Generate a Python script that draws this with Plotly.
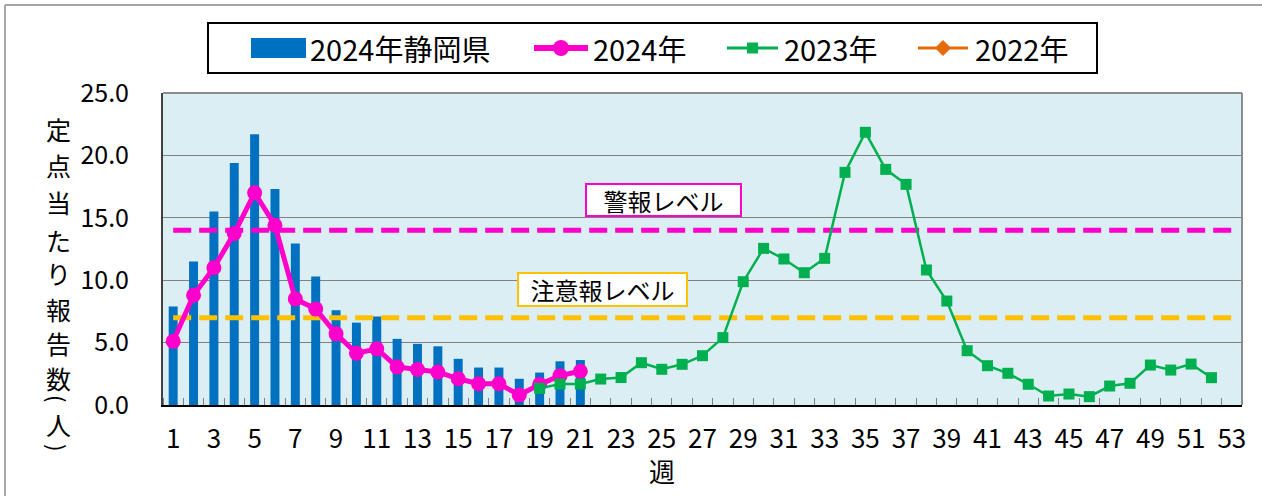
import plotly.graph_objects as go

# ---------------- data ----------------
weeks_2024 = list(range(1, 22))
shizuoka_2024 = [7.9, 11.5, 15.5, 19.4, 21.7, 17.3, 12.95, 10.3, 7.6, 6.6, 7.1,
                 5.3, 4.9, 4.7, 3.7, 3.0, 3.0, 2.1, 2.6, 3.5, 3.6]
line_2024 = [5.1, 8.8, 11.0, 13.75, 17.0, 14.4, 8.5, 7.7, 5.7, 4.15, 4.5,
             3.05, 2.85, 2.65, 2.1, 1.7, 1.7, 0.8, 1.65, 2.35, 2.7]
weeks_2023 = list(range(19, 53))
line_2023 = [1.33, 1.68, 1.68, 2.08, 2.2, 3.39, 2.86, 3.26, 3.95, 5.4, 9.88,
             12.55, 11.7, 10.6, 11.75, 18.64, 21.85, 18.88, 17.68, 10.82, 8.33,
             4.35, 3.15, 2.54, 1.66, 0.72, 0.88, 0.67, 1.52, 1.74, 3.2, 2.8,
             3.28, 2.19]
weeks_2022 = []
line_2022 = []
all_weeks = list(range(1, 54))
tick_weeks = list(range(1, 54, 2))
warning_level = 14.0
advisory_level = 7.0
series_names = ["2024年静岡県", "2024年", "2023年", "2022年"]
level_names = ["警報レベル", "注意報レベル"]
y_title_chars = ["定", "点", "当", "た", "り", "報", "告", "数", "(", "人", ")"]
x_title = "週"

# ---------------- colours ----------------
C_BAR = "#0070C0"
C_PINK = "#FF00CC"
C_GREEN = "#00B050"
C_ORANGE = "#E46C0A"
C_GOLD = "#FFC000"
FONT = "Noto Sans CJK JP"

# plot-area geometry (pixels)
W, H = 1262, 496
L, R, T, B = 163, 1242, 93, 405
PW, PH = R - L, B - T


def px(x):
    return (x - L) / PW


def py(y):
    return (B - y) / PH


fig = go.Figure()

fig.add_trace(go.Bar(x=weeks_2024, y=shizuoka_2024, name=series_names[0],
                     marker=dict(color=C_BAR, line=dict(width=0)),
                     showlegend=False))

fig.add_trace(go.Scatter(x=[all_weeks[0], all_weeks[-1]], y=[warning_level] * 2,
                         mode="lines", line=dict(color=C_PINK, width=5, dash="18px,8px"),
                         showlegend=False, hoverinfo="skip"))
fig.add_trace(go.Scatter(x=[all_weeks[0], all_weeks[-1]], y=[advisory_level] * 2,
                         mode="lines", line=dict(color=C_GOLD, width=5, dash="18px,8px"),
                         showlegend=False, hoverinfo="skip"))

fig.add_trace(go.Scatter(x=weeks_2024, y=line_2024, name=series_names[1],
                         mode="lines+markers",
                         line=dict(color=C_PINK, width=5),
                         marker=dict(symbol="circle", size=15, color=C_PINK),
                         showlegend=False))
fig.add_trace(go.Scatter(x=weeks_2023, y=line_2023, name=series_names[2],
                         mode="lines+markers",
                         line=dict(color=C_GREEN, width=2.5),
                         marker=dict(symbol="square", size=11, color=C_GREEN),
                         showlegend=False))
fig.add_trace(go.Scatter(x=weeks_2022, y=line_2022, name=series_names[3],
                         mode="lines+markers",
                         line=dict(color=C_ORANGE, width=2.5),
                         marker=dict(symbol="diamond", size=12, color=C_ORANGE),
                         showlegend=False))

shapes = []
annotations = []

# outer frame (top & left)
shapes.append(dict(type="line", xref="paper", yref="paper", x0=px(5), x1=px(W),
                   y0=py(5), y1=py(5), line=dict(color="#A6A6A6", width=2)))
shapes.append(dict(type="line", xref="paper", yref="paper", x0=px(5), x1=px(5),
                   y0=py(5), y1=py(H), line=dict(color="#A6A6A6", width=2)))
# plot area top & right border
shapes.append(dict(type="line", xref="paper", yref="paper", x0=0, x1=1, y0=1, y1=1,
                   line=dict(color="#8C8C8C", width=2)))
shapes.append(dict(type="line", xref="paper", yref="paper", x0=1, x1=1, y0=0, y1=1,
                   line=dict(color="#8C8C8C", width=2)))

# ---- manual legend ----
ly = 48
shapes.append(dict(type="rect", xref="paper", yref="paper", x0=px(208), x1=px(1097),
                   y0=py(23), y1=py(73), line=dict(color="black", width=2),
                   fillcolor="white"))
shapes.append(dict(type="rect", xref="paper", yref="paper", x0=px(251), x1=px(306),
                   y0=py(38), y1=py(58), line=dict(width=0), fillcolor=C_BAR))
# pink
shapes.append(dict(type="line", xref="paper", yref="paper", x0=px(534), x1=px(588),
                   y0=py(ly), y1=py(ly), line=dict(color=C_PINK, width=6)))
shapes.append(dict(type="circle", xref="paper", yref="paper", x0=px(553), x1=px(569),
                   y0=py(40), y1=py(56), line=dict(width=0), fillcolor=C_PINK))
# green
shapes.append(dict(type="line", xref="paper", yref="paper", x0=px(727), x1=px(778),
                   y0=py(ly), y1=py(ly), line=dict(color=C_GREEN, width=3)))
shapes.append(dict(type="rect", xref="paper", yref="paper", x0=px(747), x1=px(758),
                   y0=py(42.5), y1=py(53.5), line=dict(width=0), fillcolor=C_GREEN))
# orange
shapes.append(dict(type="line", xref="paper", yref="paper", x0=px(918), x1=px(968),
                   y0=py(ly), y1=py(ly), line=dict(color=C_ORANGE, width=3)))
dx, dy = 943, ly
shapes.append(dict(type="path", xref="paper", yref="paper",
                   path=f"M {px(dx-8)} {py(dy)} L {px(dx)} {py(dy-8)} L {px(dx+8)} {py(dy)} L {px(dx)} {py(dy+8)} Z",
                   line=dict(width=0), fillcolor=C_ORANGE))

for name, xx in zip(series_names, [308, 591, 782, 973]):
    annotations.append(dict(text=name, xref="paper", yref="paper", x=px(xx), y=py(ly),
                            xanchor="left", yanchor="middle", showarrow=False,
                            font=dict(family=FONT, size=29, color="black")))

# level labels
annotations.append(dict(text=level_names[0], x=25.1, y=16.43, xref="x", yref="y",
                        showarrow=False, bgcolor="white", bordercolor=C_PINK,
                        borderwidth=2, borderpad=1, width=151, height=28,
                        font=dict(family=FONT, size=24, color="black")))
annotations.append(dict(text=level_names[1], x=22.07, y=9.25, xref="x", yref="y",
                        showarrow=False, bgcolor="white", bordercolor=C_GOLD,
                        borderwidth=2, borderpad=1, width=165, height=29,
                        font=dict(family=FONT, size=24, color="black")))

# y-axis title (vertical, one char per line; brackets rotated)
y_centers = [128.5, 165, 202, 240, 273, 309, 343, 378, 398, 424, 447]
for ch, yc in zip(y_title_chars, y_centers):
    is_bracket = ch in "()"
    annotations.append(dict(text=ch, xref="paper", yref="paper", x=px(58), y=py(yc),
                            xanchor="center", yanchor="middle", showarrow=False,
                            textangle=90 if is_bracket else 0,
                            font=dict(family=FONT, size=22 if is_bracket else 25,
                                      color="black")))
# x-axis title
annotations.append(dict(text=x_title, xref="paper", yref="paper", x=px(662), y=py(470),
                        xanchor="center", yanchor="middle", showarrow=False,
                        font=dict(family=FONT, size=26, color="black")))

fig.update_layout(
    width=W, height=H,
    margin=dict(l=L, r=W - R, t=T, b=H - B, pad=0),
    paper_bgcolor="white",
    plot_bgcolor="#DAEEF3",
    bargap=0.56,
    showlegend=False,
    shapes=shapes,
    annotations=annotations,
    font=dict(family=FONT, color="black"),
)
fig.update_xaxes(range=[0.5, 53.5], tickmode="array", tickvals=tick_weeks,
                 ticktext=[str(t) for t in tick_weeks],
                 showgrid=False, zeroline=False,
                 showline=True, linecolor="black", linewidth=2,
                 ticks="", ticklabelstandoff=10,
                 tickfont=dict(family=FONT, size=26, color="black"),
                 minor=dict(ticks="inside", tick0=0.5, dtick=1, ticklen=7,
                            tickcolor="#808080", tickwidth=1, showgrid=False))
fig.update_yaxes(range=[0, 25], dtick=5, tickformat=".1f",
                 showgrid=True, gridcolor="#808080", gridwidth=1,
                 zeroline=False, showline=True, linecolor="#404040", linewidth=2,
                 ticks="", ticklabelstandoff=27,
                 tickfont=dict(family=FONT, size=25, color="black"))

fig.write_html("out.html",
               config={"displayModeBar": False},
               post_script="document.body.style.margin='0';document.body.style.overflow='hidden';")
